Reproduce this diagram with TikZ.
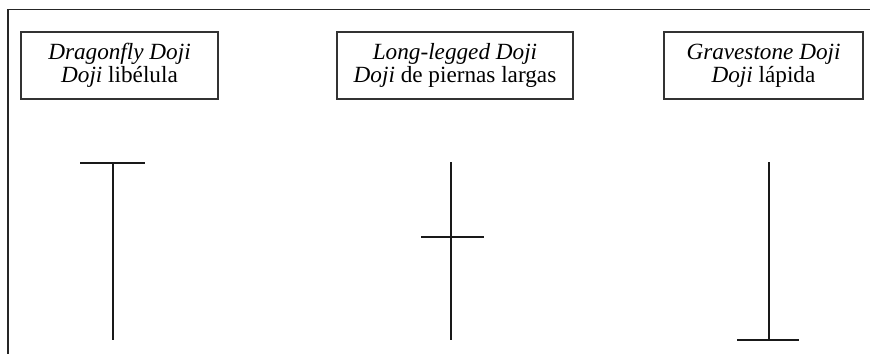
\documentclass[tikz,border=0pt]{standalone}
\usepackage{fontspec}
\setmainfont{Liberation Serif}

\begin{document}
\begin{tikzpicture}[x=1pt, y=-1pt,
  namebox/.style={draw=black!80, line width=1.3pt, align=center, inner sep=0pt,
    minimum height=67pt, minimum width=#1, font=\fontsize{23.2}{23}\selectfont},
  frame/.style={draw=black!85, line width=1.4pt},
  candle/.style={draw=black!90, line width=2pt}]
\useasboundingbox (0,0) rectangle (870,354);

% ---- open frame (top and left edge only)
\draw[frame] (870,9.5) -- (8,9.5) -- (8,354);

% ---- name boxes
\node[namebox=197pt] (dragon) at (119.5,65.5) {\textit{Dragonfly Doji}\\ \textit{Doji} libélula};
\node[namebox=236pt] (longleg) at (455,65.5) {\textit{Long-legged Doji}\\ \textit{Doji} de piernas largas};
\node[namebox=199pt] (grave) at (763.5,65.5) {\textit{Gravestone Doji}\\ \textit{Doji} lápida};

% ---- the three doji candles
% dragonfly: open = close = high
\draw[candle] (113,163) -- (113,340);
\draw[candle] (80,163) -- (145,163);
% long-legged: open = close in the middle
\draw[candle] (451,162) -- (451,340);
\draw[candle] (421,237) -- (484,237);
% gravestone: open = close = low
\draw[candle] (769,162) -- (769,340);
\draw[candle] (737,340) -- (799,340);
\end{tikzpicture}
\end{document}
